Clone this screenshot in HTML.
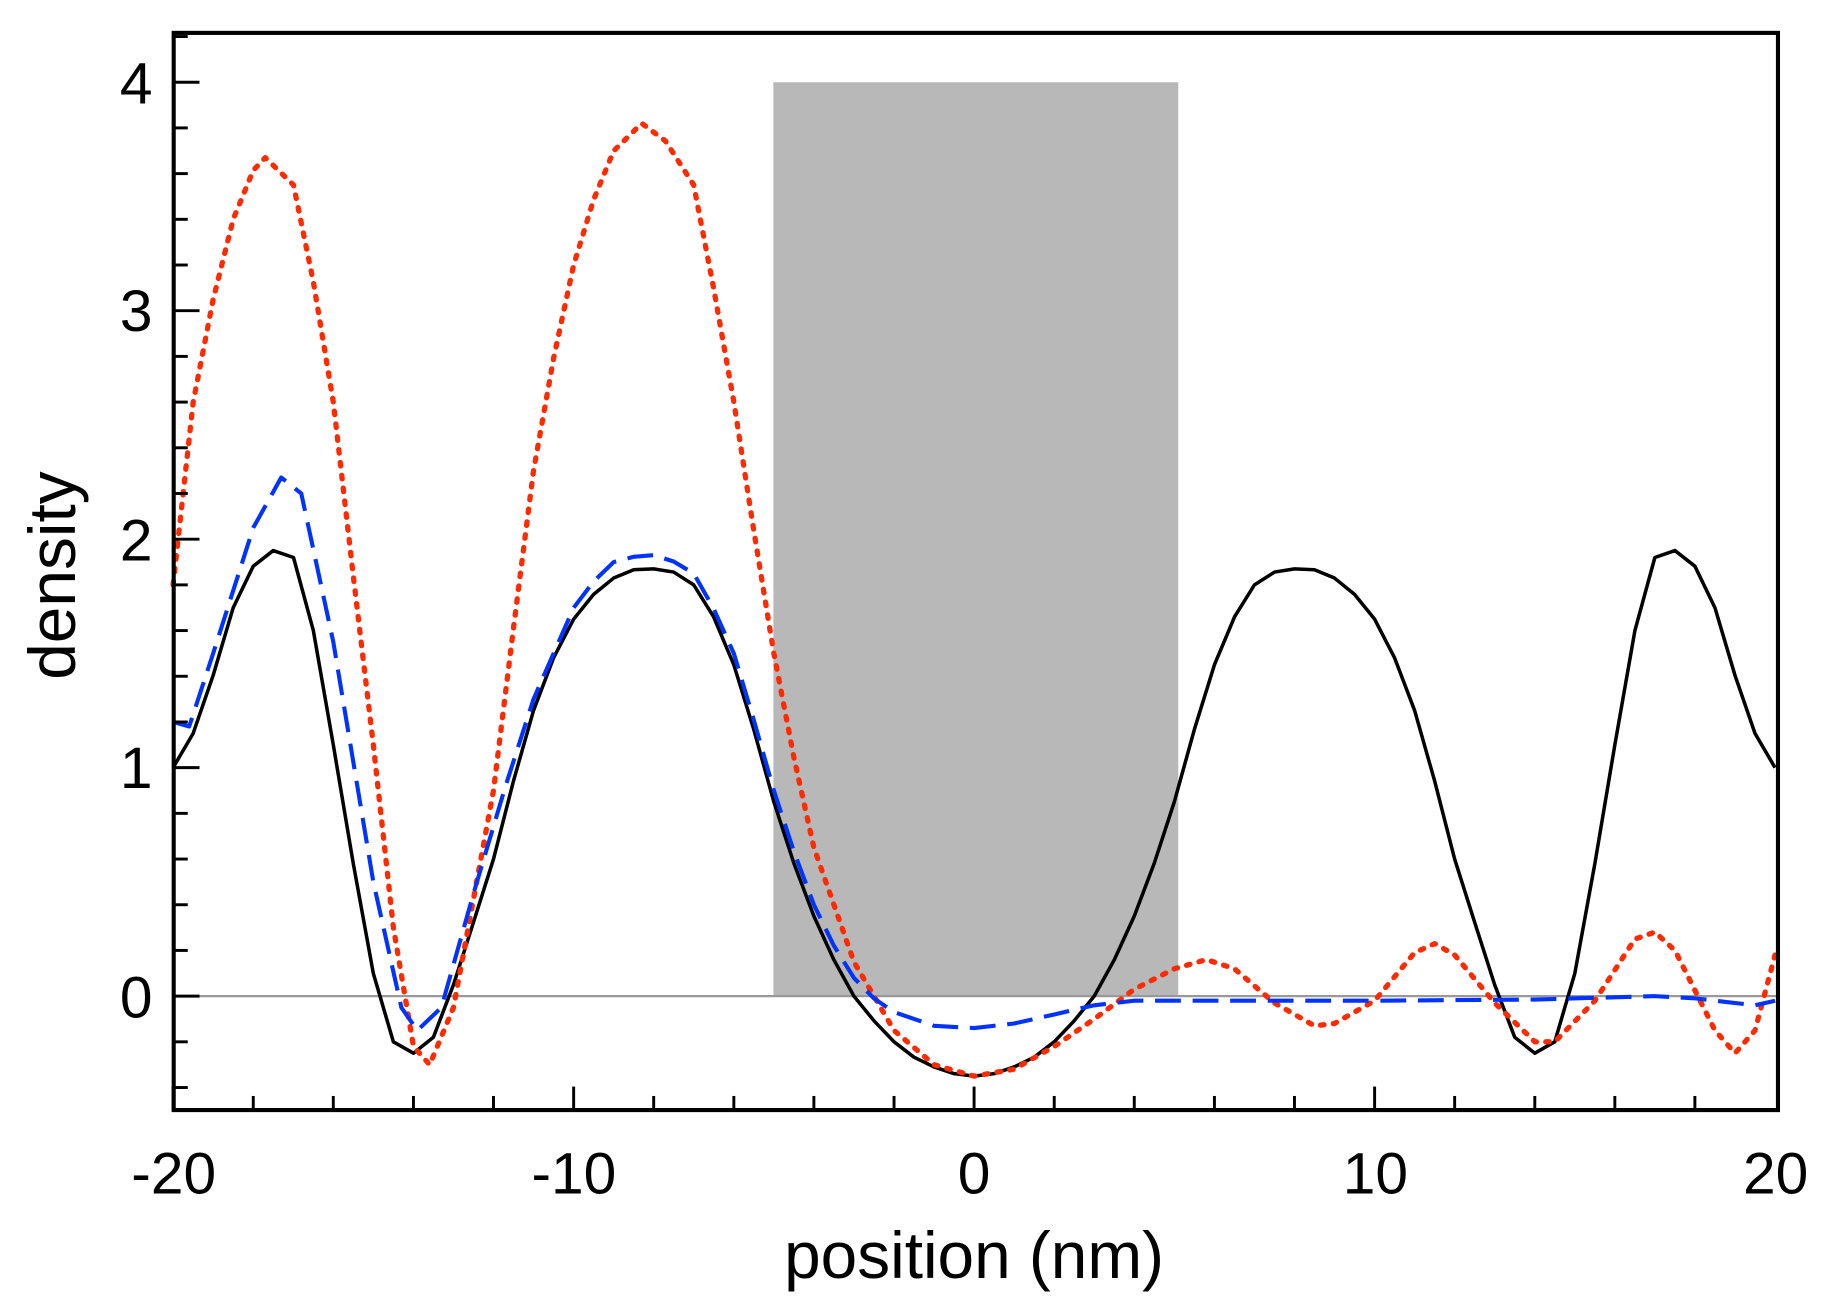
<!DOCTYPE html>
<html><head><meta charset="utf-8"><style>html,body{margin:0;padding:0;background:#fff}svg{display:block}</style></head>
<body>
<svg width="1839" height="1308" viewBox="0 0 1567 1113.5" preserveAspectRatio="none" xmlns="http://www.w3.org/2000/svg" font-family="Liberation Sans, Arial, sans-serif">
<rect x="659" y="70" width="345" height="778" fill="#b8b8b8"/>
<line x1="148" y1="848" x2="1515" y2="848" stroke="#999" stroke-width="2"/>
<path fill="none" stroke="#000" stroke-width="3" stroke-linejoin="round" d="M147.5,653.5 L164.6,624.3 L181.6,575 L198.7,517.4 L215.8,482 L232.8,468.7 L250.1,474.6 L267,536.8 L284,634.1 L301,735 L318.1,828.6 L335.2,886.9 L352.3,896.6 L369.3,883 L386.4,838.3 L403.5,785 L420.5,731.3 L437.5,665 L454.6,604.9 L471.7,560 L488.8,527.1 L505.8,506 L522.9,492.1 L540,485 L557,484.3 L574,487 L591.1,497.9 L608,525 L625.3,566 L642,620 L659.4,682.7 L676.5,735 L693.5,779.9 L710.5,817 L727.6,848 L744.7,869 L761.8,886.9 L778.8,900 L795.9,908.3 L813,914 L830,916.1 L847,914 L864.1,908.3 L881.2,900 L898.3,886.9 L915.3,869 L932.4,848 L949.5,817 L966.5,779.9 L983.5,735 L1000.6,682.7 L1018,620 L1034.8,566 L1052,525 L1068.9,497.9 L1086,487 L1103,484.3 L1120,485 L1137.1,492.1 L1154.2,506 L1171.3,527.1 L1188.3,560 L1205.4,604.9 L1222.5,665 L1239.5,731.3 L1256.5,785 L1273.6,838.3 L1290.7,883 L1307.8,896.6 L1324.8,886.9 L1341.9,828.6 L1359,735 L1376,634.1 L1393.1,536.8 L1410.1,474.6 L1427.2,468.7 L1444.2,482 L1461.3,517.4 L1478.4,575 L1495.4,624.3 L1512.5,653.5"/>
<path fill="none" stroke="#ff2a00" stroke-width="4.5" stroke-dasharray="3,8" stroke-linecap="round" stroke-linejoin="round" d="M147.5,497.9 L164.6,342.3 L181.6,255 L198.7,186.7 L215.8,145 L226,134.2 L250.1,157.5 L267,240 L284,342.3 L301,490 L318.1,634.1 L335.2,789.7 L352.3,890.8 L366.1,906.4 L386.4,857.7 L420.5,672.9 L437.5,535 L454.6,400.7 L471.7,305 L488.8,225.6 L505.8,170 L522.9,128.4 L546.8,105 L567,120 L591.1,157.5 L608,245 L625.3,342.3 L642,450 L659.4,556.3 L676.5,645 L693.5,721.6 L727.6,818.8 L761.8,877.2 L795.9,906.4 L830,916.1 L864.1,910.2 L898.3,890.8 L932.4,867.5 L966.5,842.2 L1000.6,824.7 L1028,816.9 L1051.8,824.7 L1085.9,853.8 L1120.1,873.3 L1137.1,871.3 L1171.3,851.9 L1205.4,811 L1222.5,803.3 L1239.5,813 L1273.6,853.8 L1307.8,886.9 L1324.8,886.9 L1359,851.9 L1393.1,799.4 L1410.1,793.5 L1427.2,809.1 L1461.3,877.2 L1478.4,896.6 L1495.4,877.2 L1512.5,813"/>
<path fill="none" stroke="#0033ff" stroke-width="3.5" stroke-dasharray="22,10" stroke-linejoin="round" d="M147.5,614.6 L161.2,618.5 L181.6,556.3 L215.8,449.3 L239.6,406.5 L256.7,420.1 L284,546.5 L318.1,750.8 L342,857.7 L355.6,877.2 L376.1,857.7 L403.5,760.5 L430.5,670 L454.6,595.2 L488.8,517.4 L505.8,495 L522.9,478.5 L540,474 L557,472.6 L574,478 L591.1,488.2 L608,518 L625.3,556.3 L642,612 L659.4,673 L676.5,725 L693.5,770.2 L710.5,805 L727.6,832.4 L744.7,850 L761.8,861.6 L795.9,873.3 L830,875.2 L864.1,871.3 L898.3,863.6 L932.4,855.8 L966.5,851.9 L1034.8,851.9 L1171.3,851.9 L1307.8,850.9 L1410.1,848 L1444.2,849.9 L1495.4,855.8 L1512.5,851.9"/>
<rect x="148" y="28" width="1367" height="917" fill="none" stroke="#000" stroke-width="3.5"/>
<g stroke="#000" stroke-width="2.5">
<line x1="147.5" y1="945" x2="147.5" y2="925"/><line x1="215.8" y1="945" x2="215.8" y2="933"/><line x1="284" y1="945" x2="284" y2="933"/><line x1="352.3" y1="945" x2="352.3" y2="933"/><line x1="420.5" y1="945" x2="420.5" y2="933"/><line x1="488.8" y1="945" x2="488.8" y2="925"/><line x1="557" y1="945" x2="557" y2="933"/><line x1="625.3" y1="945" x2="625.3" y2="933"/><line x1="693.5" y1="945" x2="693.5" y2="933"/><line x1="761.8" y1="945" x2="761.8" y2="933"/><line x1="830" y1="945" x2="830" y2="925"/><line x1="898.3" y1="945" x2="898.3" y2="933"/><line x1="966.5" y1="945" x2="966.5" y2="933"/><line x1="1034.8" y1="945" x2="1034.8" y2="933"/><line x1="1103" y1="945" x2="1103" y2="933"/><line x1="1171.3" y1="945" x2="1171.3" y2="925"/><line x1="1239.5" y1="945" x2="1239.5" y2="933"/><line x1="1307.8" y1="945" x2="1307.8" y2="933"/><line x1="1376" y1="945" x2="1376" y2="933"/><line x1="1444.2" y1="945" x2="1444.2" y2="933"/>
<line x1="148" y1="925.8" x2="160" y2="925.8"/><line x1="148" y1="886.9" x2="160" y2="886.9"/><line x1="148" y1="848" x2="170" y2="848"/><line x1="148" y1="809.1" x2="160" y2="809.1"/><line x1="148" y1="770.2" x2="160" y2="770.2"/><line x1="148" y1="731.3" x2="160" y2="731.3"/><line x1="148" y1="692.4" x2="160" y2="692.4"/><line x1="148" y1="653.5" x2="170" y2="653.5"/><line x1="148" y1="614.6" x2="160" y2="614.6"/><line x1="148" y1="575.7" x2="160" y2="575.7"/><line x1="148" y1="536.8" x2="160" y2="536.8"/><line x1="148" y1="497.9" x2="160" y2="497.9"/><line x1="148" y1="459" x2="170" y2="459"/><line x1="148" y1="420.1" x2="160" y2="420.1"/><line x1="148" y1="381.2" x2="160" y2="381.2"/><line x1="148" y1="342.3" x2="160" y2="342.3"/><line x1="148" y1="303.4" x2="160" y2="303.4"/><line x1="148" y1="264.5" x2="170" y2="264.5"/><line x1="148" y1="225.6" x2="160" y2="225.6"/><line x1="148" y1="186.7" x2="160" y2="186.7"/><line x1="148" y1="147.8" x2="160" y2="147.8"/><line x1="148" y1="108.9" x2="160" y2="108.9"/><line x1="148" y1="70" x2="170" y2="70"/><line x1="148" y1="31.1" x2="160" y2="31.1"/>
</g>
<g font-size="50" fill="#000" text-anchor="end">
<text x="130" y="866">0</text><text x="130" y="671">1</text><text x="130" y="477">2</text><text x="130" y="282">3</text><text x="130" y="88">4</text>
</g>
<g font-size="50" fill="#000" text-anchor="middle">
<text x="148" y="1016">-20</text><text x="489" y="1016">-10</text><text x="830" y="1016">0</text><text x="1172" y="1016">10</text><text x="1513" y="1016">20</text>
<text x="830" y="1088" font-size="56">position (nm)</text>
<text transform="translate(64,490) rotate(-90)" font-size="56">density</text>
</g>
</svg>
</body></html>
